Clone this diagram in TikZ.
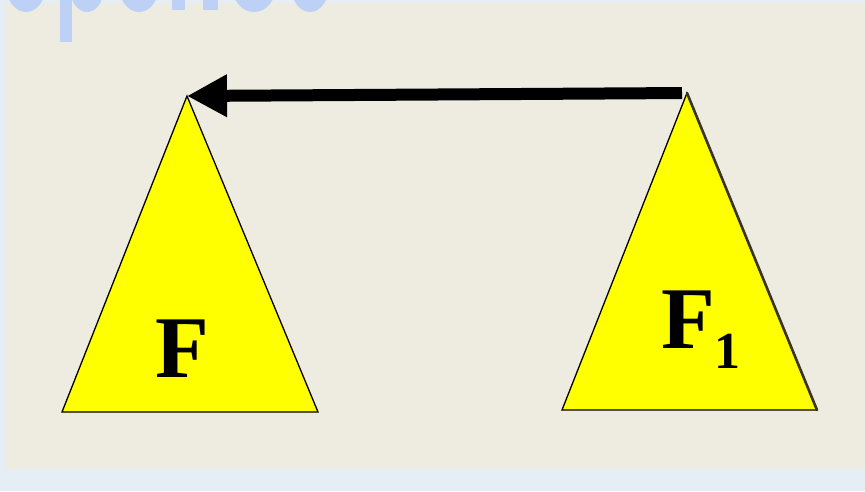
\documentclass[tikz,border=0pt]{standalone}
\usepackage{fontspec}
\setmainfont{Liberation Serif}
\usetikzlibrary{arrows.meta}
\definecolor{panelbg}{HTML}{EEEBE0}
\definecolor{edgebg}{HTML}{E4EEF4}
\definecolor{titleblue}{HTML}{BDD0F6}
\definecolor{trifill}{HTML}{FFFF00}
\begin{document}
\begin{tikzpicture}[x=1pt, y=-1pt,
    tri/.style={fill=trifill, draw=black, line width=1.3pt, line join=miter},
    letter/.style={font=\bfseries\fontsize{88}{88}\selectfont, inner sep=0pt}]
  \useasboundingbox (0,0) rectangle (865,491);
  % background and panel
  \fill[edgebg] (0,0) rectangle (865,491);
  \fill[panelbg] (5,3) rectangle (865,469);
  % cut-off title letters
  \begin{scope}
    \clip (0,0) rectangle (865,491);
    \fill[titleblue] (26,-15) ellipse [x radius=20, y radius=27];
    \fill[titleblue] (60,0) rectangle (72,42);
    \fill[titleblue] (87,-12) ellipse [x radius=17, y radius=24];
    \fill[titleblue] (139,-14) ellipse [x radius=20, y radius=26];
    \fill[titleblue] (172,0) rectangle (185,10);
    \fill[titleblue] (203,0) rectangle (218,10);
    \fill[titleblue] (254,-14) ellipse [x radius=22, y radius=26];
    \fill[titleblue] (310,-14) ellipse [x radius=19, y radius=26];
  \end{scope}
  % triangles
  \coordinate (apexF) at (187,96);
  \coordinate (apexFone) at (687,93);
  \draw[tri] (apexF) -- (318,412) -- (62,412) -- cycle;
  \draw[tri] (apexFone) -- (817,410) -- (562,410) -- cycle;
  \draw[draw=black!80!olive, line width=2.6pt, line cap=round] (apexFone) -- (817,410);
  \node[letter, anchor=base] (labF) at (182,377) {F};
  \node[letter, anchor=base west] (labFone) at (661,348)
    {F\raisebox{-20pt}{\fontsize{52}{52}\selectfont 1}};
  % arrow
  \draw[-{Triangle[length=40pt, width=40pt]}, line width=12pt, shorten <=5pt]
    (apexFone) -- (apexF);
\end{tikzpicture}
\end{document}
